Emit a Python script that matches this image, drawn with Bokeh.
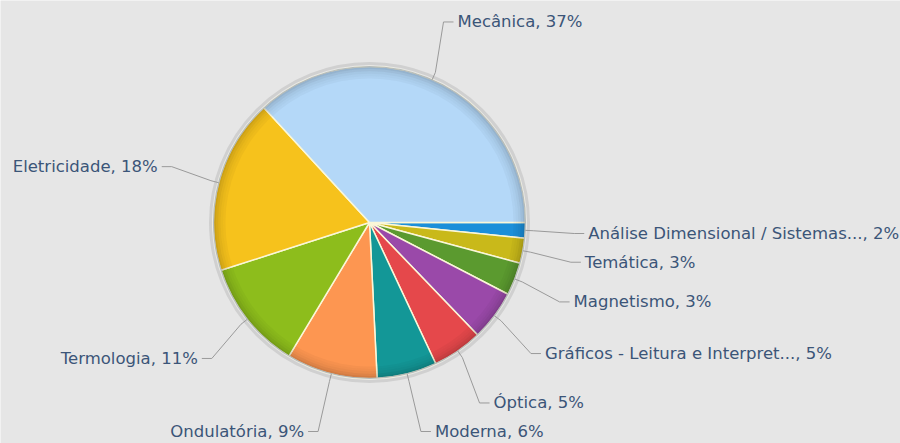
import math
from bokeh.plotting import figure
from bokeh.models import Range1d, ColumnDataSource
from bokeh.embed import file_html
from bokeh.resources import INLINE
from bokeh.core.properties import value

# ---- data (clockwise from 3 o'clock) ----
categories = [
    "Análise Dimensional / Sistemas...",
    "Temática",
    "Magnetismo",
    "Gráficos - Leitura e Interpret...",
    "Óptica",
    "Moderna",
    "Ondulatória",
    "Termologia",
    "Eletricidade",
    "Mecânica",
]
shares = [1.6, 2.6, 3.4, 5.2, 5.2, 6.2, 9.4, 11.4, 18.1, 36.8]
colors = [
    "#1b8fd9", "#c9b91a", "#5b9a2f", "#9a49a9", "#e5484b",
    "#139797", "#fd9651", "#8dbd1c", "#f6c21c", "#b4d8f8",
]

BG = "#e6e6e6"
W, H = 900, 443

# geometry in reference screen pixels
CX, CY = 369.0, 222.0
R = 156.0
R_LABEL = 219.0
Y_MAX = H - 12  # keep labels inside the chart

total = sum(shares)
a0s, a1s, mids = [], [], []
acc = 0.0
for s in shares:
    a0 = acc / total * 2 * math.pi
    acc += s
    a1 = acc / total * 2 * math.pi
    a0s.append(a0)
    a1s.append(a1)
    mids.append((a0 + a1) / 2)

# natural label positions + simple overlap avoidance per side
labels = []
for i, m in enumerate(mids):
    side = 1 if math.cos(m) >= 0 else -1
    labels.append({"i": i, "side": side, "y": CY + R_LABEL * math.sin(m)})
for side in (1, -1):
    group = sorted([l for l in labels if l["side"] == side], key=lambda l: l["y"])
    for k in range(1, len(group)):
        group[k]["y"] = max(group[k]["y"], group[k - 1]["y"] + 22)
    for l in group:
        l["y"] = min(l["y"], Y_MAX)

lx, ly, ltxt, lalign, cxs, cys = [], [], [], [], [], []
for l in sorted(labels, key=lambda l: l["i"]):
    i, side, y = l["i"], l["side"], l["y"]
    m = mids[i]
    dy = y - CY
    dx = math.sqrt(max(R_LABEL ** 2 - dy ** 2, 0.0))
    xt = CX + side * dx
    bx, by = CX + R * math.cos(m), CY + R * math.sin(m)
    kx, ky = CX + (R + 8) * math.cos(m), CY + (R + 8) * math.sin(m)
    ex, ey = xt - side * 14, y
    fx, fy = xt - side * 4, y
    cxs.append([bx, kx, ex, fx])
    cys.append([H - v for v in (by, ky, ey, fy)])
    lx.append(xt)
    ly.append(H - y)
    ltxt.append(f"{categories[i]}, {round(shares[i] / total * 100)}%")
    lalign.append("left" if side == 1 else "right")

dcx, dcy = CX, H - CY

p = figure(
    width=W, height=H,
    x_range=Range1d(0, W), y_range=Range1d(0, H),
    output_backend="svg", toolbar_location=None,
    x_axis_location=None, y_axis_location=None,
    min_border=0, background_fill_color=BG, border_fill_color=BG,
    outline_line_color=None,
)
p.grid.visible = False

# soft shadow ring
p.circle(x=dcx, y=dcy, radius=R + 3, fill_color=None, line_color="#d0d0d0", line_width=3)

wsrc = ColumnDataSource(dict(
    x=[dcx] * len(shares), y=[dcy] * len(shares),
    start=[-a for a in a0s], end=[-a for a in a1s], color=colors,
))
p.wedge(x="x", y="y", radius=R, start_angle="start", end_angle="end",
        direction="clock", fill_color="color", line_color="#fbf7d8",
        line_width=1.5, source=wsrc)

# rim shading for a 3D look
ring_alphas = [0.03, 0.05, 0.08, 0.12, 0.17]
for k, a in enumerate(ring_alphas):
    p.annulus(x=dcx, y=dcy, inner_radius=R - 12 + k * 2.4, outer_radius=R - 12 + (k + 1) * 2.4,
              fill_color="black", fill_alpha=a, line_color=None)

p.circle(x=dcx, y=dcy, radius=R, fill_color=None, line_color="#a9b2ba", line_width=1.2, line_alpha=0.8)

p.multi_line(xs=cxs, ys=cys, line_color="#9a9a9a", line_width=1)

p.text(x=lx, y=ly, text=ltxt, text_align=lalign, text_baseline="middle",
       text_font=value("DejaVu Sans"), text_font_size="16.5px", text_color="#3b5578")

open("out.html", "w").write(file_html(p, INLINE))
